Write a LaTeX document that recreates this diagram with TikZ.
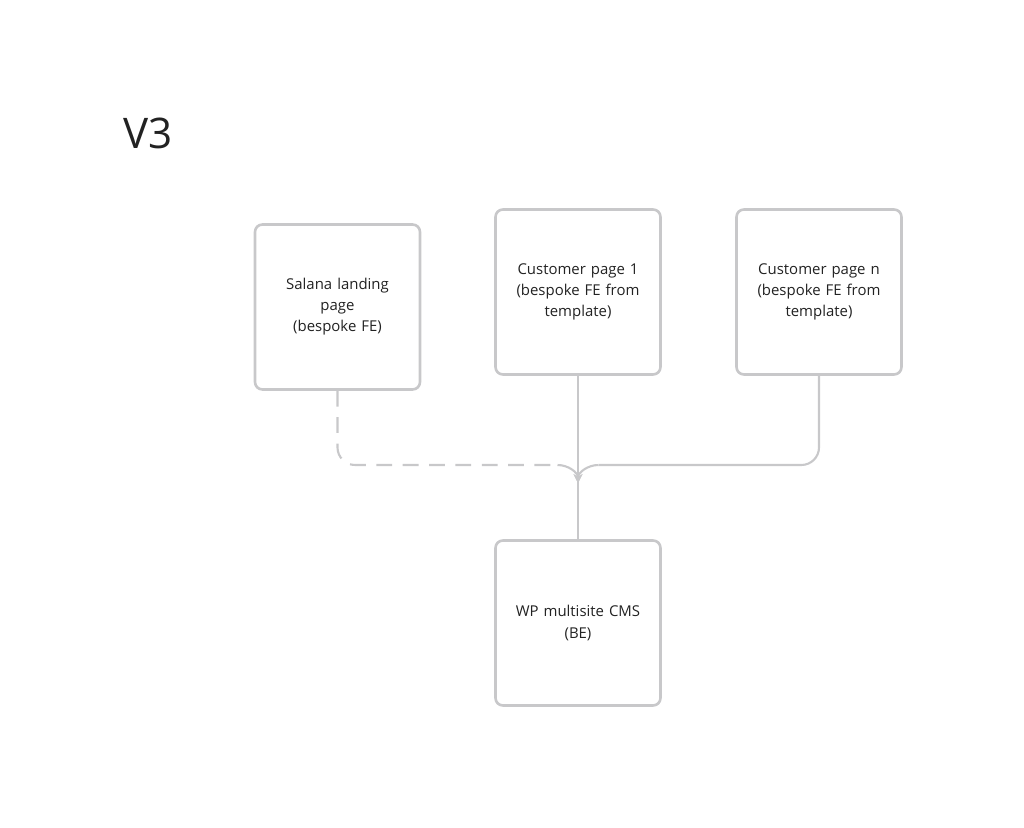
\documentclass[tikz,border=0pt]{standalone}
\usepackage{fontspec}
\setmainfont{Open Sans}
\usetikzlibrary{arrows.meta,positioning}
\definecolor{boxGray}{HTML}{C8C8CA}
\definecolor{txtDark}{HTML}{222222}
\tikzset{
	page/.style={draw=boxGray, line width=1.5pt, rounded corners=1.5mm, minimum width=3.3cm,
		minimum height=3.3cm, text width=3cm, align=center, font=\fontsize{8.5}{12}\selectfont, text=txtDark},
	link/.style={draw=boxGray, line width=1.2pt},
}
\begin{document}
\begin{tikzpicture}
	\useasboundingbox (0,0) rectangle (20.48,16.56);
	\node[font=\fontsize{24}{26}\selectfont, text=txtDark, anchor=west] (title) at (2.35,13.9) {V3};
	
	\node[page] (salana) at (6.75,10.42) {Salana landing\\page\\(bespoke FE)};
	\node[page] (cust1) at (11.56,10.72) {Customer page 1\\(bespoke FE from\\template)};
	\node[page] (custn) at (16.38,10.72) {Customer page n\\(bespoke FE from\\template)};
	\node[page] (cms) at (11.56,4.10) {WP multisite CMS\\(BE)};
	
	\coordinate (merge) at (11.56,6.90);
	\draw[link] (cust1) -- (cms);
	\draw[link, dashed, dash pattern=on 9pt off 6pt, rounded corners=10pt]
		(salana.south) -- (6.75,7.26) -- (11.15,7.26);
	\draw[link, -{Stealth[length=5pt,width=5pt]}] (11.15,7.26) to[out=0,in=90] (merge);
	\draw[link, rounded corners=10pt] (custn.south) -- (16.38,7.26) -- (11.97,7.26);
	\draw[link, -{Stealth[length=5pt,width=5pt]}] (11.97,7.26) to[out=180,in=90] (merge);
\end{tikzpicture}
\end{document}
